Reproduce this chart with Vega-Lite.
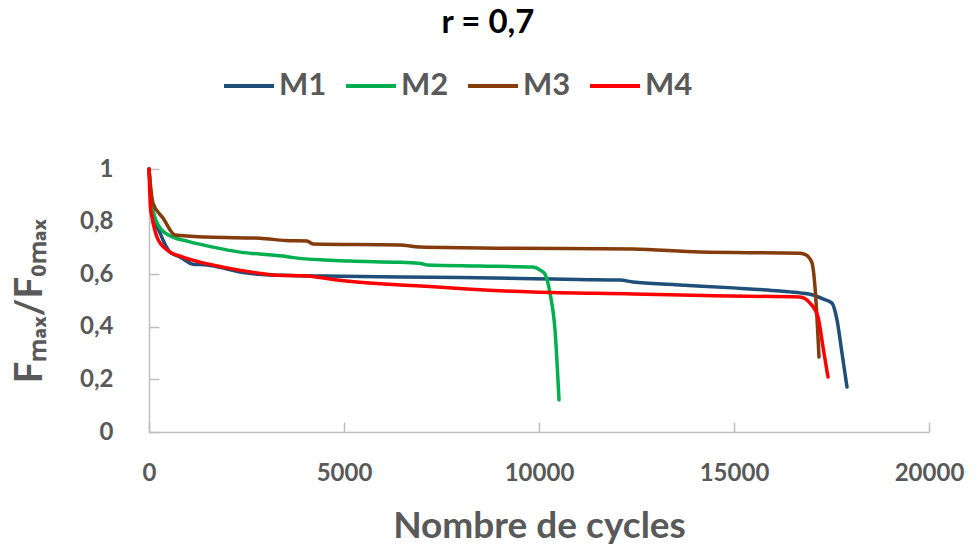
{
  "$schema": "https://vega.github.io/schema/vega-lite/v6.json",
  "width": 780,
  "height": 263,
  "autosize": {"type": "none"},
  "padding": {"left": 149, "top": 169, "right": 47, "bottom": 122},
  "background": "white",
  "title": {
    "text": "r = 0,7",
    "font": "Lato",
    "fontSize": 33,
    "fontWeight": "bold",
    "color": "#000000",
    "anchor": "middle",
    "frame": "group",
    "dx": -51,
    "offset": 19
  },
  "config": {
    "view": {"stroke": null},
    "font": "Lato"
  },
  "data": {
    "values": [
      {"serie": "M1", "cycles": 0, "ratio": 1},
      {"serie": "M1", "cycles": 60, "ratio": 0.88},
      {"serie": "M1", "cycles": 103, "ratio": 0.833},
      {"serie": "M1", "cycles": 282, "ratio": 0.757},
      {"serie": "M1", "cycles": 538, "ratio": 0.684},
      {"serie": "M1", "cycles": 800, "ratio": 0.665},
      {"serie": "M1", "cycles": 1128, "ratio": 0.638},
      {"serie": "M1", "cycles": 1487, "ratio": 0.635},
      {"serie": "M1", "cycles": 2000, "ratio": 0.62},
      {"serie": "M1", "cycles": 2333, "ratio": 0.608},
      {"serie": "M1", "cycles": 3000, "ratio": 0.598},
      {"serie": "M1", "cycles": 3615, "ratio": 0.595},
      {"serie": "M1", "cycles": 5000, "ratio": 0.592},
      {"serie": "M1", "cycles": 6436, "ratio": 0.589},
      {"serie": "M1", "cycles": 8000, "ratio": 0.587},
      {"serie": "M1", "cycles": 9846, "ratio": 0.583},
      {"serie": "M1", "cycles": 11000, "ratio": 0.58},
      {"serie": "M1", "cycles": 12077, "ratio": 0.578},
      {"serie": "M1", "cycles": 12410, "ratio": 0.57},
      {"serie": "M1", "cycles": 13500, "ratio": 0.56},
      {"serie": "M1", "cycles": 14974, "ratio": 0.548},
      {"serie": "M1", "cycles": 16180, "ratio": 0.536},
      {"serie": "M1", "cycles": 16692, "ratio": 0.529},
      {"serie": "M1", "cycles": 17026, "ratio": 0.521},
      {"serie": "M1", "cycles": 17300, "ratio": 0.505},
      {"serie": "M1", "cycles": 17513, "ratio": 0.49},
      {"serie": "M1", "cycles": 17641, "ratio": 0.426},
      {"serie": "M1", "cycles": 17769, "ratio": 0.3},
      {"serie": "M1", "cycles": 17897, "ratio": 0.171},
      {"serie": "M2", "cycles": 0, "ratio": 1},
      {"serie": "M2", "cycles": 50, "ratio": 0.9},
      {"serie": "M2", "cycles": 103, "ratio": 0.844},
      {"serie": "M2", "cycles": 282, "ratio": 0.776},
      {"serie": "M2", "cycles": 615, "ratio": 0.741},
      {"serie": "M2", "cycles": 1000, "ratio": 0.725},
      {"serie": "M2", "cycles": 1641, "ratio": 0.703},
      {"serie": "M2", "cycles": 2333, "ratio": 0.684},
      {"serie": "M2", "cycles": 3436, "ratio": 0.669},
      {"serie": "M2", "cycles": 3700, "ratio": 0.663},
      {"serie": "M2", "cycles": 5154, "ratio": 0.65},
      {"serie": "M2", "cycles": 6436, "ratio": 0.645},
      {"serie": "M2", "cycles": 7000, "ratio": 0.64},
      {"serie": "M2", "cycles": 7128, "ratio": 0.635},
      {"serie": "M2", "cycles": 8487, "ratio": 0.631},
      {"serie": "M2", "cycles": 9846, "ratio": 0.627},
      {"serie": "M2", "cycles": 10026, "ratio": 0.616},
      {"serie": "M2", "cycles": 10154, "ratio": 0.6},
      {"serie": "M2", "cycles": 10282, "ratio": 0.528},
      {"serie": "M2", "cycles": 10410, "ratio": 0.388},
      {"serie": "M2", "cycles": 10513, "ratio": 0.122},
      {"serie": "M3", "cycles": 0, "ratio": 1},
      {"serie": "M3", "cycles": 50, "ratio": 0.92},
      {"serie": "M3", "cycles": 103, "ratio": 0.87},
      {"serie": "M3", "cycles": 359, "ratio": 0.814},
      {"serie": "M3", "cycles": 667, "ratio": 0.749},
      {"serie": "M3", "cycles": 1487, "ratio": 0.741},
      {"serie": "M3", "cycles": 2846, "ratio": 0.737},
      {"serie": "M3", "cycles": 3500, "ratio": 0.728},
      {"serie": "M3", "cycles": 4051, "ratio": 0.726},
      {"serie": "M3", "cycles": 4205, "ratio": 0.715},
      {"serie": "M3", "cycles": 6436, "ratio": 0.711},
      {"serie": "M3", "cycles": 6949, "ratio": 0.703},
      {"serie": "M3", "cycles": 9000, "ratio": 0.699},
      {"serie": "M3", "cycles": 12410, "ratio": 0.696},
      {"serie": "M3", "cycles": 14128, "ratio": 0.684},
      {"serie": "M3", "cycles": 16692, "ratio": 0.68},
      {"serie": "M3", "cycles": 16850, "ratio": 0.673},
      {"serie": "M3", "cycles": 17000, "ratio": 0.643},
      {"serie": "M3", "cycles": 17077, "ratio": 0.551},
      {"serie": "M3", "cycles": 17180, "ratio": 0.285},
      {"serie": "M4", "cycles": 0, "ratio": 1},
      {"serie": "M4", "cycles": 40, "ratio": 0.85},
      {"serie": "M4", "cycles": 77, "ratio": 0.817},
      {"serie": "M4", "cycles": 205, "ratio": 0.741},
      {"serie": "M4", "cycles": 461, "ratio": 0.692},
      {"serie": "M4", "cycles": 872, "ratio": 0.665},
      {"serie": "M4", "cycles": 1308, "ratio": 0.646},
      {"serie": "M4", "cycles": 1897, "ratio": 0.627},
      {"serie": "M4", "cycles": 2770, "ratio": 0.605},
      {"serie": "M4", "cycles": 3200, "ratio": 0.597},
      {"serie": "M4", "cycles": 4051, "ratio": 0.593},
      {"serie": "M4", "cycles": 5000, "ratio": 0.575},
      {"serie": "M4", "cycles": 6436, "ratio": 0.559},
      {"serie": "M4", "cycles": 7200, "ratio": 0.553},
      {"serie": "M4", "cycles": 8154, "ratio": 0.544},
      {"serie": "M4", "cycles": 9846, "ratio": 0.532},
      {"serie": "M4", "cycles": 12410, "ratio": 0.525},
      {"serie": "M4", "cycles": 14500, "ratio": 0.518},
      {"serie": "M4", "cycles": 16692, "ratio": 0.513},
      {"serie": "M4", "cycles": 16949, "ratio": 0.49},
      {"serie": "M4", "cycles": 17154, "ratio": 0.437},
      {"serie": "M4", "cycles": 17282, "ratio": 0.323},
      {"serie": "M4", "cycles": 17410, "ratio": 0.209}
    ]
  },
  "mark": {"type": "line", "strokeWidth": 3.5, "interpolate": "monotone", "strokeCap": "round"},
  "encoding": {
    "x": {
      "field": "cycles",
      "type": "quantitative",
      "scale": {"domain": [0, 20000], "nice": false},
      "axis": {
        "values": [0, 5000, 10000, 15000, 20000],
        "format": "d",
        "title": "Nombre de cycles",
        "titleFont": "Lato",
        "titleFontSize": 37,
        "titleFontWeight": "bold",
        "titleColor": "#595959",
        "titlePadding": 23,
        "labelFont": "Lato",
        "labelFontSize": 24,
        "labelFontWeight": "bold",
        "labelColor": "#595959",
        "labelPadding": 39,
        "labelFlush": false,
        "grid": false,
        "domainColor": "#BFBFBF",
        "domainWidth": 1.5,
        "tickColor": "#BFBFBF",
        "tickWidth": 1.5,
        "tickSize": -10
      }
    },
    "y": {
      "field": "ratio",
      "type": "quantitative",
      "scale": {"domain": [0, 1], "nice": false},
      "axis": {
        "values": [0, 0.2, 0.4, 0.6, 0.8, 1],
        "labelExpr": "replace(format(datum.value, '~g'), '.', ',')",
        "title": "Fₘₐₓ/F₀ₘₐₓ",
        "titleFont": "Lato",
        "titleFontSize": 38,
        "titleFontWeight": "bold",
        "titleColor": "#595959",
        "titlePadding": 30,
        "labelFont": "Lato",
        "labelFontSize": 24,
        "labelFontWeight": "bold",
        "labelColor": "#595959",
        "labelPadding": 46,
        "labelFlush": false,
        "grid": false,
        "domainColor": "#BFBFBF",
        "domainWidth": 1.5,
        "tickColor": "#BFBFBF",
        "tickWidth": 1.5,
        "tickSize": -10
      }
    },
    "color": {
      "field": "serie",
      "type": "nominal",
      "scale": {
        "domain": ["M1", "M2", "M3", "M4"],
        "range": ["#1F4E79", "#00B050", "#843C0C", "#FF0000"]
      },
      "legend": {
        "title": null,
        "orient": "none",
        "direction": "horizontal",
        "legendX": 73,
        "legendY": -110,
        "padding": 0,
        "symbolType": "stroke",
        "symbolSize": 2500,
        "symbolStrokeWidth": 4,
        "labelFont": "Lato",
        "labelFontSize": 31,
        "labelFontWeight": "bold",
        "labelColor": "#595959",
        "labelOffset": 3,
        "columnPadding": 11
      }
    }
  }
}
